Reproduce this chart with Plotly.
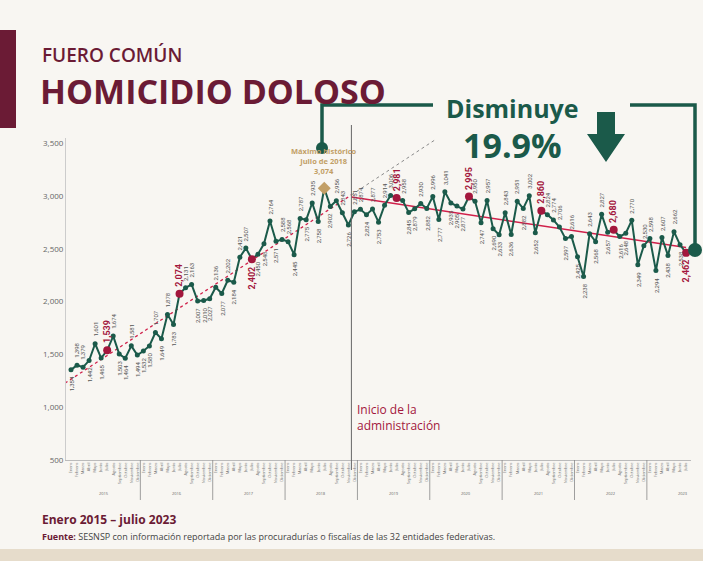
import numpy as np
import plotly.graph_objects as go

# Homicidio doloso (fuero común), víctimas por mes, enero 2015 - julio 2023
meses = ["Enero", "Febrero", "Marzo", "Abril", "Mayo", "Junio", "Julio", "Agosto",
         "Septiembre", "Octubre", "Noviembre", "Diciembre"]
anios = [2015, 2016, 2017, 2018, 2019, 2020, 2021, 2022, 2023]

v2015 = [1354, 1398, 1379, 1442, 1601, 1465, 1539, 1674, 1503, 1464, 1581, 1494]
v2016 = [1532, 1580, 1707, 1649, 1878, 1783, 2074, 2131, 2163, 2007, 2010, 2027]
v2017 = [2136, 2077, 2202, 2184, 2421, 2507, 2402, 2450, 2548, 2764, 2571, 2588]
v2018 = [2568, 2445, 2787, 2775, 2935, 2758, 3074, 2902, 2956, 2843, 2726, 2851]
v2019 = [2874, 2824, 2877, 2753, 2914, 3006, 2981, 2958, 2845, 2879, 2930, 2882]
v2020 = [2996, 2777, 3041, 2935, 2905, 2877, 2995, 2950, 2747, 2957, 2690, 2633]
v2021 = [2843, 2636, 2951, 2882, 3002, 2652, 2860, 2824, 2774, 2706, 2597, 2616]
v2022 = [2425, 2238, 2643, 2568, 2827, 2657, 2680, 2616, 2648, 2770, 2349, 2530]
v2023 = [2598, 2294, 2607, 2438, 2662, 2538, 2462]

valores = v2015 + v2016 + v2017 + v2018 + v2019 + v2020 + v2021 + v2022 + v2023
x = list(range(len(valores)))
etiquetas_mes = [meses[i % 12] for i in x]
julios = [i for i in x if i % 12 == 6]
maximo = int(np.argmax(valores))
inicio_admin = 46.5  # entre noviembre y diciembre de 2018

# labels that sit on the other side than the neighbour rule would pick
forzar_arriba = {2, 6, 54, 79, 80, 81}
forzar_abajo = {30, 102}

GREEN = "#1b5a4a"
RED = "#a3173d"
MAROON = "#6b1b35"
GOLD = "#c29f66"
FONT = "Open Sans"

# geometry helpers (pixels -> paper)
L, R, T, B = 66, 691, 138, 460
W, H = R - L, B - T


def px(xp):
    return (xp - L) / W


def py(yp):
    return (B - yp) / H


# linear trends before / after the start of the administration
arr = np.array(valores, dtype=float)
xa = np.array(x, dtype=float)
pre = xa < inicio_admin
m1, b1 = np.polyfit(xa[pre], arr[pre], 1)
m2, b2 = np.polyfit(xa[~pre], arr[~pre], 1)
x_top = (3540 - b1) / m1

fig = go.Figure()
fig.add_trace(go.Scatter(x=[-1, inicio_admin], y=[b1 - m1, b1 + m1 * inicio_admin], mode="lines",
                         line=dict(color="#d0204a", width=1.3, dash="dot"), hoverinfo="skip"))
fig.add_trace(go.Scatter(x=[inicio_admin, x_top], y=[b1 + m1 * inicio_admin, 3540], mode="lines",
                         line=dict(color="#8a8a8a", width=1, dash="dot"), hoverinfo="skip"))
fig.add_trace(go.Scatter(x=[inicio_admin, x[-1]], y=[b2 + m2 * inicio_admin, b2 + m2 * x[-1]], mode="lines",
                         line=dict(color="#d0204a", width=1.5), hoverinfo="skip"))
fig.add_trace(go.Scatter(x=x, y=valores, mode="lines+markers",
                         line=dict(color=GREEN, width=2), marker=dict(color=GREEN, size=5)))
fig.add_trace(go.Scatter(x=[i for i in julios if i != maximo], y=[valores[i] for i in julios if i != maximo],
                         mode="markers", marker=dict(color=RED, size=8)))
fig.add_trace(go.Scatter(x=[maximo], y=[valores[maximo]], mode="markers",
                         marker=dict(color=GOLD, size=10, symbol="diamond")))

annotations = []
# data labels
for i, v in enumerate(valores):
    if i == maximo:
        continue
    prev_v = valores[i - 1] if i > 0 else v
    next_v = valores[i + 1] if i < len(valores) - 1 else v
    above = v >= (prev_v + next_v) / 2
    if i in forzar_arriba:
        above = True
    if i in forzar_abajo:
        above = False
    is_jul = i in julios
    annotations.append(dict(
        x=i, y=v, text=f"<b>{v:,}</b>" if is_jul else f"{v:,}", showarrow=False, textangle=-90,
        font=dict(family="Roboto", size=9 if is_jul else 6, color=RED if is_jul else "#555555"),
        yanchor="bottom" if above else "top", yshift=5 if above else -5, xanchor="center"))

annotations.append(dict(x=maximo, y=valores[maximo], yshift=10, yanchor="bottom", showarrow=False,
                        text=f"<b>Máximo histórico<br>Julio de 2018<br>{valores[maximo]:,}</b>",
                        font=dict(family=FONT, size=7.5, color=GOLD), align="center"))

annotations.append(dict(x=inicio_admin, y=900, xanchor="left", yanchor="middle", xshift=4, showarrow=False,
                        align="left", text="Inicio de la<br>administración",
                        font=dict(family=FONT, size=12, color=RED)))

# years under the month labels
for k, a in enumerate(anios):
    annotations.append(dict(x=k * 12 + 5.5, y=py(493), xref="x", yref="paper", showarrow=False,
                            yanchor="middle", text=str(a), font=dict(family=FONT, size=4, color="#666666")))

# titles & footer
annotations += [
    dict(x=px(40), y=py(55), xref="paper", yref="paper", xanchor="left", yanchor="middle", showarrow=False,
         text="FUERO COMÚN", font=dict(family=FONT, size=19, color=MAROON, weight=600)),
    dict(x=px(38), y=py(91), xref="paper", yref="paper", xanchor="left", yanchor="middle", showarrow=False,
         text="<b>HOMICIDIO DOLOSO</b>", font=dict(family=FONT, size=34, color=MAROON)),
    dict(x=px(512), y=py(108), xref="paper", yref="paper", xanchor="center", yanchor="middle", showarrow=False,
         text="<b>Disminuye</b>", font=dict(family=FONT, size=25, color=GREEN)),
    dict(x=px(512), y=py(145), xref="paper", yref="paper", xanchor="center", yanchor="middle", showarrow=False,
         text="<b>19.9%</b>", font=dict(family=FONT, size=34, color=GREEN)),
    dict(x=px(40), y=py(519), xref="paper", yref="paper", xanchor="left", yanchor="middle", showarrow=False,
         text="<b>Enero 2015 – julio 2023</b>", font=dict(family=FONT, size=12, color=MAROON)),
    dict(x=px(40), y=py(536), xref="paper", yref="paper", xanchor="left", yanchor="middle", showarrow=False,
         text="<b><span style='color:%s'>Fuente:</span></b> SESNSP con información reportada por las "
              "procuradurías o fiscalías de las 32 entidades federativas." % MAROON,
         font=dict(family=FONT, size=9, color="#444444")),
]

shapes = [
    # background decorations
    dict(type="rect", xref="paper", yref="paper", x0=px(0), x1=px(16), y0=py(128), y1=py(30),
         fillcolor=MAROON, line_width=0, layer="below"),
    dict(type="rect", xref="paper", yref="paper", x0=px(0), x1=px(703), y0=py(561), y1=py(549),
         fillcolor="#e6dccb", line_width=0, layer="below"),
    # start of administration
    dict(type="line", xref="x", yref="paper", x0=inicio_admin, x1=inicio_admin, y0=py(470), y1=py(125),
         line=dict(color="#666666", width=1)),
    # callout
    dict(type="path", xref="paper", yref="paper",
         path=f"M {px(322)},{py(148)} L {px(322)},{py(105)} L {px(433)},{py(105)}",
         line=dict(color=GREEN, width=3.5)),
    dict(type="path", xref="paper", yref="paper",
         path=f"M {px(630)},{py(105)} L {px(695)},{py(105)} L {px(695)},{py(250)}",
         line=dict(color=GREEN, width=3.5)),
    dict(type="circle", xref="paper", yref="paper", x0=px(316), x1=px(328), y0=py(154), y1=py(142),
         fillcolor=GREEN, line_width=0),
    dict(type="circle", xref="paper", yref="paper", x0=px(688), x1=px(702), y0=py(257), y1=py(243),
         fillcolor=GREEN, line_width=0),
    dict(type="path", xref="paper", yref="paper", fillcolor=GREEN, line_width=0,
         path=f"M {px(597)},{py(112)} L {px(615)},{py(112)} L {px(615)},{py(134)} L {px(625)},{py(134)} "
              f"L {px(606)},{py(162)} L {px(587)},{py(134)} L {px(597)},{py(134)} Z"),
]
# year separators on the x axis
for k in range(1, len(anios)):
    shapes.append(dict(type="line", xref="x", yref="paper", x0=k * 12 - 0.5, x1=k * 12 - 0.5,
                       y0=py(460), y1=py(500), line=dict(color="#888888", width=0.8)))

fig.update_layout(
    width=703, height=561,
    margin=dict(l=L, r=703 - R, t=T, b=561 - B),
    paper_bgcolor="#f8f6f2", plot_bgcolor="rgba(0,0,0,0)",
    showlegend=False,
    annotations=annotations, shapes=shapes,
    xaxis=dict(range=[-0.83, 102.82], tickmode="array", tickvals=x, ticktext=etiquetas_mes,
               tickangle=-90, tickfont=dict(family=FONT, size=4, color="#777777"),
               showgrid=False, zeroline=False, showline=True, linecolor="#bbbbbb", linewidth=1, ticks=""),
    yaxis=dict(range=[500, 3550], tickvals=[500, 1000, 1500, 2000, 2500, 3000, 3500], tickformat=",",
               tickfont=dict(family=FONT, size=8, color="#666666"), showgrid=False, zeroline=False,
               showline=True, linecolor="#cccccc", linewidth=1, ticks=""),
)

# the page has the browser's default body margin; drop it so the figure fills the window
fig.write_html("out.html", config={"displayModeBar": False},
               post_script="document.body.style.margin = '0';")
